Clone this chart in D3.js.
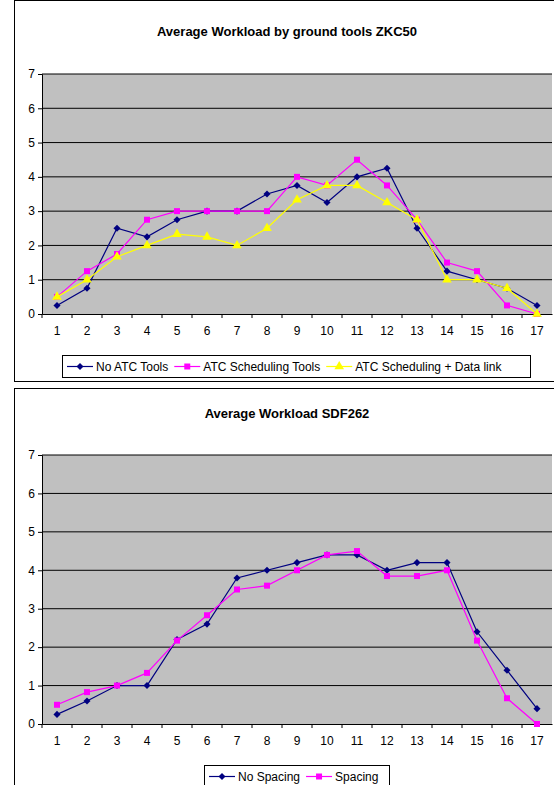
<!DOCTYPE html>
<html><head><meta charset="utf-8">
<script src="https://cdn.jsdelivr.net/npm/d3@7"></script>
<style>body{margin:0;background:#fff}svg{font-family:Arial,"Liberation Sans",sans-serif}</style>
</head><body>
<script>
const categories = d3.range(1, 18);
const yTicks = [0,1,2,3,4,5,6,7];

const noAtcTools = [0.25,0.75,2.5,2.25,2.75,3,3,3.5,3.75,3.25,4,4.25,2.5,1.25,1,0.75,0.25];
const atcScheduling = [0.5,1.25,1.75,2.75,3,3,3,3,4,3.75,4.5,3.75,2.75,1.5,1.25,0.25,0];
const atcDataLink = [0.5,1,1.67,2,2.33,2.25,2,2.5,3.33,3.75,3.75,3.25,2.75,1,1,0.75,0];

const noSpacing = [0.25,0.6,1,1,2.2,2.6,3.8,4,4.2,4.4,4.4,4,4.2,4.2,2.4,1.4,0.4];
const spacing = [0.5,0.83,1,1.33,2.17,2.83,3.5,3.6,4,4.4,4.5,3.85,3.85,4,2.17,0.67,0];

const svg = d3.select('body').append('svg').attr('width', 554).attr('height', 785);

function chart(cfg) {
  const g = svg.append('g');
  g.append('rect').attr('x', 14.5).attr('y', cfg.boxTop + 0.5).attr('width', 560).attr('height', cfg.boxH)
    .attr('fill', '#fff').attr('stroke', '#000');
  g.append('text').attr('x', 287).attr('y', cfg.titleY).attr('text-anchor', 'middle')
    .attr('font-size', 13).attr('font-weight', 'bold').text(cfg.title);

  const x = d3.scaleBand().domain(categories).range([42, 552]);
  const y = d3.scaleLinear().domain([0, 7]).range([cfg.bottom, cfg.top]);

  g.append('rect').attr('x', 42).attr('y', cfg.top).attr('width', 510).attr('height', cfg.bottom - cfg.top)
    .attr('fill', '#c0c0c0');
  g.selectAll('.grid').data(yTicks.slice(1)).enter().append('line')
    .attr('x1', 42).attr('x2', 552).attr('y1', d => y(d)).attr('y2', d => y(d))
    .attr('stroke', '#000').attr('stroke-width', 1);

  const ya = g.append('g').attr('transform', 'translate(42,0)')
    .call(d3.axisLeft(y).tickValues(yTicks).tickSize(4).tickFormat(d3.format('d')));
  const xa = g.append('g').attr('transform', `translate(0,${cfg.bottom})`)
    .call(d3.axisBottom(x).tickSize(0).tickPadding(12));
  [ya, xa].forEach(a => { a.selectAll('text').attr('font-size', 12).attr('fill', '#000'); a.select('.domain').attr('stroke', '#000'); });
  g.selectAll('.xt').data(categories).enter().append('line')
    .attr('x1', d => x(d)).attr('x2', d => x(d)).attr('y1', cfg.bottom).attr('y2', cfg.bottom + 4).attr('stroke', '#000');

  const line = d3.line().x((d, i) => x(categories[i]) + x.bandwidth() / 2).y(d => y(d));
  cfg.series.forEach(s => {
    g.append('path').datum(s.values).attr('d', line).attr('fill', 'none').attr('stroke', s.color).attr('stroke-width', 1.2);
    const sym = d3.symbol().type(s.shape).size(s.size);
    g.selectAll(null).data(s.values).enter().append('path')
      .attr('d', sym).attr('fill', s.color)
      .attr('transform', (d, i) => `translate(${x(categories[i]) + x.bandwidth() / 2},${y(d)})`);
  });

  const lg = g.append('g');
  lg.append('rect').attr('x', cfg.legX + 0.5).attr('y', cfg.legY + 0.5).attr('width', cfg.legW).attr('height', 22)
    .attr('fill', '#fff').attr('stroke', '#000');
  let cx = cfg.legX + 5;
  cfg.series.forEach(s => {
    lg.append('line').attr('x1', cx).attr('x2', cx + 26).attr('y1', cfg.legY + 11.5).attr('y2', cfg.legY + 11.5)
      .attr('stroke', s.color).attr('stroke-width', 1.2);
    lg.append('path').attr('d', d3.symbol().type(s.shape).size(s.size)()).attr('fill', s.color)
      .attr('transform', `translate(${cx + 13},${cfg.legY + 11.5})`);
    const t = lg.append('text').attr('x', cx + 29).attr('y', cfg.legY + 16).attr('font-size', 12).text(s.name);
    cx += 29 + t.node().getComputedTextLength() + 6;
  });
}

chart({
  boxTop: 0, boxH: 381, titleY: 36, title: 'Average Workload by ground tools ZKC50',
  top: 74, bottom: 314, legX: 62, legY: 355, legW: 468,
  series: [
    { name: 'No ATC Tools', values: noAtcTools, color: '#000080', shape: d3.symbolDiamond2, size: 32 },
    { name: 'ATC Scheduling Tools', values: atcScheduling, color: '#ff00ff', shape: d3.symbolSquare, size: 36 },
    { name: 'ATC Scheduling + Data link', values: atcDataLink, color: '#ffff00', shape: d3.symbolTriangle, size: 40 }
  ]
});

chart({
  boxTop: 388, boxH: 420, titleY: 418, title: 'Average Workload SDF262',
  top: 455, bottom: 724, legX: 204, legY: 765, legW: 185,
  series: [
    { name: 'No Spacing', values: noSpacing, color: '#000080', shape: d3.symbolDiamond2, size: 32 },
    { name: 'Spacing', values: spacing, color: '#ff00ff', shape: d3.symbolSquare, size: 36 }
  ]
});
</script>
</body></html>
